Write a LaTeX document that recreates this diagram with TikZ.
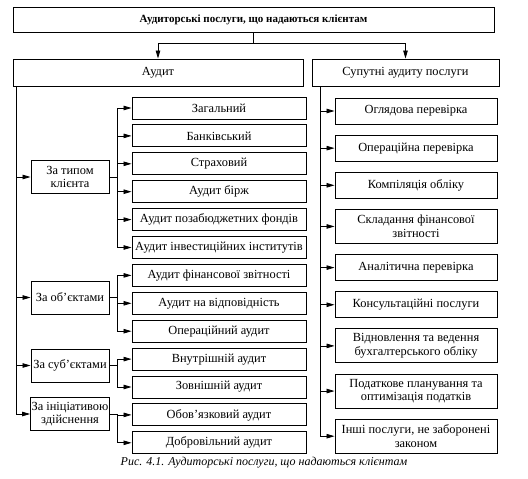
\documentclass[tikz,border=0pt]{standalone}
\usepackage{fontspec}
\setmainfont{Liberation Serif}
\usetikzlibrary{arrows.meta,positioning}

\begin{document}
\begin{tikzpicture}[
  x=1pt, y=-1pt,
  node distance=5pt,
  box/.style={rectangle, draw=black, line width=0.9pt, fill=white, align=center,
              inner sep=1pt, font=\fontsize{12.4}{13.5}\selectfont},
  sub/.style={box, minimum width=174pt, minimum height=22pt},
  cat/.style={box, minimum width=78pt, minimum height=33pt},
  rsub/.style={box, minimum width=162pt, minimum height=26pt},
  arrow/.style={-{Triangle[length=8pt,width=4.5pt]}, line width=0.8pt, black},
]
  \useasboundingbox (0,0) rectangle (528,479);

  \node[box, minimum width=481pt, minimum height=25pt,
        font=\fontsize{11}{13}\selectfont\bfseries] (title) at (253.5,19.5)
        {Аудиторські послуги, що надаються клієнтам};
  \node[box, minimum width=290pt, minimum height=27pt] (audit) at (158,72.5) {Аудит};
  \node[box, minimum width=187pt, minimum height=27pt] (supp)  at (405.5,72.5) {Супутні аудиту послуги};

  \draw[arrow] (title.south) -- ++(0,11) -| (audit.north);
  \draw[arrow] (title.south) -- ++(0,11) -| (supp.north);

  \node[sub] (gen) at (219,108)  {Загальний};
  \node[sub, below=of gen]  (bank) {Банківський};
  \node[sub, below=of bank] (ins)  {Страховий};
  \node[sub, below=of ins]  (exch) {Аудит бірж};
  \node[sub, below=of exch] (fund) {Аудит позабюджетних фондів};
  \node[sub, below=of fund] (inv)  {Аудит інвестиційних інститутів};
  \node[sub, below=of inv]  (fin)  {Аудит фінансової звітності};
  \node[sub, below=of fin]  (comp) {Аудит на відповідність};
  \node[sub, below=of comp] (oper) {Операційний аудит};
  \node[sub, below=of oper] (intr) {Внутрішній аудит};
  \node[sub, below=of intr] (extr) {Зовнішній аудит};
  \node[sub, below=of extr] (mand) {Обов'язковий аудит};
  \node[sub, below=of mand] (vol)  {Добровільний аудит};

  \node[cat] (bytype) at (70,177)   {За типом\\клієнта};
  \node[cat] (byobj)  at (70,297.5) {За об'єктами};
  \node[cat] (bysubj) at (70,365.5) {За суб'єктами};
  \node[cat] (byinit) at (70,414)   {За ініціативою\\здійснення};

  \coordinate (lrail) at ([xshift=4pt]audit.south west);
  \foreach \c in {bytype,byobj,bysubj,byinit}
    \draw[arrow] (lrail) |- (\c.west);

  \foreach \s in {gen,bank,ins,exch,fund,inv}
    \draw[arrow] (bytype.east) -- ++(8,0) |- (\s.west);
  \foreach \s in {fin,comp,oper}
    \draw[arrow] (byobj.east) -- ++(8,0) |- (\s.west);
  \foreach \s in {intr,extr}
    \draw[arrow] (bysubj.east) -- ++(8,0) |- (\s.west);
  \foreach \s in {mand,vol}
    \draw[arrow] (byinit.east) -- ++(8,0) |- (\s.west);

  \node[rsub] (review) at (416,111) {Оглядова перевірка};
  \node[rsub, below=10.25pt of review] (opchk) {Операційна перевірка};
  \node[rsub, below=10.25pt of opchk]  (compil) {Компіляція обліку};
  \node[rsub, minimum height=34pt, below=10.25pt of compil] (prep) {Складання фінансової\\звітності};
  \node[rsub, below=10.25pt of prep]   (anal) {Аналітична перевірка};
  \node[rsub, below=10.25pt of anal]   (cons) {Консультаційні послуги};
  \node[rsub, minimum height=34pt, below=10.25pt of cons] (book) {Відновлення та ведення\\бухгалтерського обліку};
  \node[rsub, minimum height=34pt, below=10.25pt of book] (tax)  {Податкове планування та\\оптимізація податків};
  \node[rsub, minimum height=34pt, below=10.25pt of tax]  (other) {Інші послуги, не заборонені\\законом};

  \coordinate (rrail) at ([xshift=9pt]supp.south west);
  \foreach \r in {review,opchk,compil,prep,anal,cons,book,tax,other}
    \draw[arrow] (rrail) |- (\r.west);

  \node[font=\fontsize{12}{13}\selectfont\itshape] (caption) at (264,463)
       {Рис. 4.1. Аудиторські послуги, що надаються клієнтам};
\end{tikzpicture}
\end{document}
